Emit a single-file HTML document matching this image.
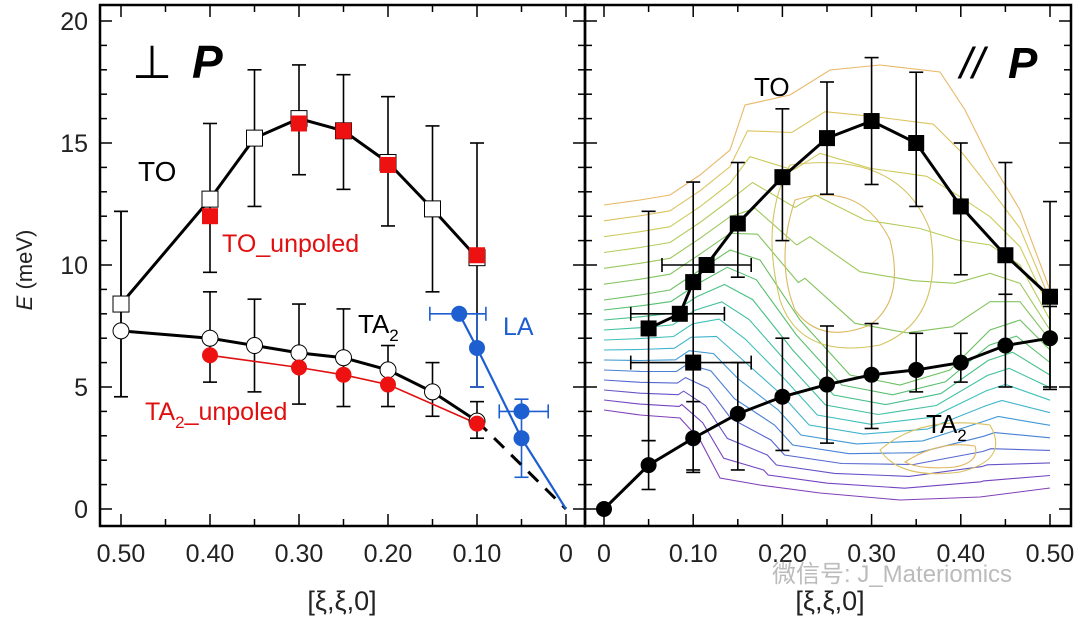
<!DOCTYPE html>
<html><head><meta charset="utf-8"><style>
body{margin:0;background:#fff}
svg{display:block}
text{font-family:"Liberation Sans",sans-serif}
</style></head><body>
<svg id="chart" width="1080" height="620" viewBox="0 0 1080 620"></svg>
<script>
// ---- data ----
const toXi=[0.5,0.4,0.35,0.3,0.25,0.2,0.15,0.1];
const toE=[8.4,12.7,15.2,16.0,15.5,14.2,12.3,10.3];
const toLo=[4.6,9.7,12.4,13.7,13.1,11.6,8.9,5.0];
const toHi=[12.2,15.8,18.0,18.2,17.8,16.9,15.7,15.0];
const touXi=[0.4,0.3,0.25,0.2,0.1];
const touE=[12.0,15.8,15.5,14.1,10.4];
const taXi=[0.5,0.4,0.35,0.3,0.25,0.2,0.15,0.1];
const taE=[7.3,7.0,6.7,6.4,6.2,5.7,4.8,3.6];
const taLo=[4.6,5.2,4.8,4.3,4.2,4.2,3.8,2.9];
const taHi=[12.2,8.9,8.6,8.4,8.2,6.7,6.0,4.4];
const tauXi=[0.4,0.3,0.25,0.2,0.1];
const tauE=[6.3,5.8,5.5,5.1,3.5];
const laXi=[0.12,0.1,0.05,0.05,0];
const laE=[8.0,6.6,4.0,2.9,0];
const laXlo=[0.153,null,0.075,null,null];
const laXhi=[0.09,null,0.02,null,null];
const laLo=[null,5.0,null,1.3,null];
const laHi=[null,8.0,null,4.5,null];
const rtoXi=[0.05,0.085,0.1,0.115,0.15,0.2,0.25,0.3,0.35,0.4,0.45,0.5];
const rtoE=[7.4,8.0,9.3,10.0,11.7,13.6,15.2,15.9,15.0,12.4,10.4,8.7];
const rtoLo=[2.8,null,1.5,null,9.5,11.0,12.9,13.3,12.4,9.6,6.7,4.9];
const rtoHi=[12.2,null,13.4,null,14.2,16.4,17.5,18.5,17.9,15.0,14.2,12.6];
const rtoXlo=[null,0.03,null,0.065,null,null,null,null,null,null,null,null];
const rtoXhi=[null,0.135,null,0.165,null,null,null,null,null,null,null,null];
const rtaXi=[0,0.05,0.1,0.15,0.2,0.25,0.3,0.35,0.4,0.45,0.5];
const rtaE=[0,1.8,2.9,3.9,4.6,5.1,5.5,5.7,6.0,6.7,7.0];
const rtaLo=[null,0.8,1.6,1.6,2.4,2.7,3.3,4.8,5.2,5.0,5.0];
const rtaHi=[null,2.8,4.4,6.0,7.0,7.5,7.6,7.2,7.2,8.8,8.3];
const yTicks=[0,5,10,15,20];
const xTicks=[0.5,0.4,0.3,0.2,0.1,0];
const xTickLabels=["0.50","0.40","0.30","0.20","0.10","0"];
const rxTicks=[0,0.1,0.2,0.3,0.4,0.5];
const rxTickLabels=["0","0.10","0.20","0.30","0.40","0.50"];

// ---- scales ----
const Y=e=>509-e*24.4;
const XL=x=>566-x*890;
const XR=x=>604+x*892;
const NS="http://www.w3.org/2000/svg";
const svg=document.getElementById('chart');
function el(t,a,p){const e=document.createElementNS(NS,t);for(const k in a)e.setAttribute(k,a[k]);(p||svg).appendChild(e);return e;}
function line(x1,y1,x2,y2,c,w,extra){return el('line',Object.assign({x1,y1,x2,y2,stroke:c,'stroke-width':w},extra||{}));}
function txt(x,y,s,size,fill,anchor,extra){const t=el('text',Object.assign({x,y,'font-size':size,fill,'text-anchor':anchor||'start'},extra||{}));t.textContent=s;return t;}

// ---- contours (decorative background of right panel) ----
const cg=el('g',{});


const outerC=[[604,205],[640,200],[670,195],[700,175],[730,150],[745,105],[790,95],[830,70],[880,65],[940,72],[965,110],[990,160],[1020,210],[1050,290]];
const midC=[[604,300],[640,295],[670,290],[700,270],[730,250],[760,260],[800,320],[850,375],[900,385],[950,370],[990,330],[1020,320],[1050,350]];
const innerC=[[604,410],[640,415],[680,418],[700,440],[720,478],[760,485],[820,493],[900,500],[980,497],[1050,488]];
const colsA=['#e8b868','#dcc460','#cccc5c','#b4cc5c','#9cc85c','#84c460'];
const colsB=['#6cc060','#58c070','#48c088','#40c0a0','#40c0bc','#40b4cc','#4098d4','#4880d4','#5468d0','#6454c8','#7444c0','#8040b8'];
function lerpPath(a,b,t){const n=Math.max(a.length,b.length);const pts=[];for(let i=0;i<n;i++){const pa=a[Math.round(i*(a.length-1)/(n-1))],pb=b[Math.round(i*(b.length-1)/(n-1))];pts.push([(pa[0]*(1-t)+pb[0]*t).toFixed(1),(pa[1]*(1-t)+pb[1]*t).toFixed(1)]);}return 'M'+pts.map(p=>p.join(' ')).join(' L');}
colsA.forEach((c,i)=>el('path',{d:lerpPath(outerC,midC,i/colsA.length),fill:'none',stroke:c,'stroke-width':1.1},cg));
colsB.forEach((c,i)=>el('path',{d:lerpPath(midC,innerC,i/(colsB.length-1)),fill:'none',stroke:c,'stroke-width':1.1},cg));
el('path',{d:'M795 200 Q860 180 890 240 Q905 300 870 325 Q820 345 795 310 Q775 260 795 200Z',fill:'none',stroke:'#dcb860','stroke-width':1.1},cg);
el('path',{d:'M790 165 Q900 150 930 230 Q945 320 880 345 Q800 360 780 300 Q760 220 790 165Z',fill:'none',stroke:'#d4c460','stroke-width':1.1},cg);
el('path',{d:'M880 450 Q920 415 990 425 Q1010 460 960 472 Q900 480 880 450Z',fill:'none',stroke:'#d8c060','stroke-width':1.1},cg);
el('path',{d:'M905 462 Q940 440 975 446 Q980 462 955 467 Q920 470 905 462Z',fill:'none',stroke:'#e0b860','stroke-width':1.1},cg);

// ---- frames ----
el('rect',{x:100,y:5,width:485,height:521,fill:'none',stroke:'#000','stroke-width':2.5});
el('rect',{x:585,y:5,width:486,height:521,fill:'none',stroke:'#000','stroke-width':2.5});

for(let e=0;e<=20;e++){const y=Y(e);const L=(e%5===0)?12:7;
  line(100,y,100+L,y,'#000',1.5);line(585-L,y,585,y,'#000',1.5);line(585,y,585+L,y,'#000',1.5);line(1071-L,y,1071,y,'#000',1.5);}
for(let i=0;i<=10;i++){const x=i*0.05;const L=(i%2===0)?12:7;
  line(XL(x),526,XL(x),526-L,'#000',1.5);line(XL(x),5,XL(x),5+L,'#000',1.5);
  line(XR(x),526,XR(x),526-L,'#000',1.5);line(XR(x),5,XR(x),5+L,'#000',1.5);}
yTicks.forEach(v=>{const t=txt(88,Y(v)+9,String(v),25,'#222','end');});
xTicks.forEach((v,i)=>{const t=txt(XL(v),562,xTickLabels[i],25,'#222','middle');});
rxTicks.forEach((v,i)=>{const t=txt(XR(v),562,rxTickLabels[i],25,'#222','middle');});

let t=txt(0,0,'',22,'#222','middle',{transform:'translate(32,270) rotate(-90)'});
t.innerHTML='<tspan font-style="italic">E</tspan> (meV)';

t=txt(342,610,'[ξ,ξ,0]',27,'#222','middle',{'font-family':'Liberation Serif,serif'});

t=txt(830,610,'[ξ,ξ,0]',27,'#222','middle',{'font-family':'Liberation Serif,serif'});


function vbar(x,lo,hi,c){if(lo==null)return;line(x,Y(lo),x,Y(hi),c,1.6);line(x-7,Y(lo),x+7,Y(lo),c,1.6);line(x-7,Y(hi),x+7,Y(hi),c,1.6);}
function hbar(x1,x2,y,c){line(x1,y,x2,y,c,1.6);line(x1,y-7,x1,y+7,c,1.6);line(x2,y-7,x2,y+7,c,1.6);}
function poly(xs,es,X,c,w,dash){return el('polyline',{points:xs.map((x,i)=>X(x)+','+Y(es[i])).join(' '),fill:'none',stroke:c,'stroke-width':w,'stroke-dasharray':dash||'none'});}

toXi.forEach((x,i)=>vbar(XL(x),toLo[i],toHi[i],'#000'));
taXi.forEach((x,i)=>vbar(XL(x),taLo[i],taHi[i],'#000'));
laXi.forEach((x,i)=>{vbar(XL(x),laLo[i],laHi[i],'#1d5fd0');if(laXlo[i]!=null)hbar(XL(laXlo[i]),XL(laXhi[i]),Y(laE[i]),'#1d5fd0');});
poly(toXi,toE,XL,'#000',3);
poly(taXi,taE,XL,'#000',3);
poly([0.1,0],[taE[taE.length-1],0],XL,'#000',3,'14,10');
poly(tauXi,tauE,XL,'#e01010',1.6);
poly([0.12,0.1,0.05,0],[8.0,6.6,2.9,0],XL,'#1d5fd0',2.2);
toXi.forEach((x,i)=>{const m=el('rect',{x:XL(x)-8,y:Y(toE[i])-8,width:16,height:16,fill:'#fff',stroke:'#000','stroke-width':1});});
taXi.forEach((x,i)=>{const m=el('circle',{cx:XL(x),cy:Y(taE[i]),r:8,fill:'#fff',stroke:'#000','stroke-width':1});});
touXi.forEach((x,i)=>{const m=el('rect',{x:XL(x)-8,y:Y(touE[i])-8,width:16,height:16,fill:'#ee1111'});});
tauXi.forEach((x,i)=>{const m=el('circle',{cx:XL(x),cy:Y(tauE[i]),r:8,fill:'#ee1111'});});
laXi.forEach((x,i)=>{if(x===0)return;const m=el('circle',{cx:XL(x),cy:Y(laE[i]),r:8,fill:'#1d5fd0'});});

rtoXi.forEach((x,i)=>{vbar(XR(x),rtoLo[i],rtoHi[i],'#000');if(rtoXlo[i]!=null)hbar(XR(rtoXlo[i]),XR(rtoXhi[i]),Y(rtoE[i]),'#000');});
rtaXi.forEach((x,i)=>vbar(XR(x),rtaLo[i],rtaHi[i],'#000'));
hbar(XR(0.03),XR(0.165),Y(6.0),'#000');
poly(rtoXi,rtoE,XR,'#000',3);
poly(rtaXi,rtaE,XR,'#000',3);
rtoXi.forEach((x,i)=>{const m=el('rect',{x:XR(x)-8,y:Y(rtoE[i])-8,width:16,height:16,fill:'#000'});});
{const m=el('rect',{x:XR(0.1)-8,y:Y(6.0)-8,width:16,height:16,fill:'#000'});}
rtaXi.forEach((x,i)=>{const m=el('circle',{cx:XR(x),cy:Y(rtaE[i]),r:8,fill:'#000'});});

function lab(x,y,html,size,fill,name,extra){const t=txt(x,y,'',size,fill,'start',extra);t.innerHTML=html;}
lab(132,78,'⊥',46,'#000','perp-label');
lab(192,78,'P',46,'#000','perp-p-label',{'font-weight':'bold','font-style':'italic'});
lab(138,181,'TO',28,'#000','to-label');
lab(222,252,'TO_unpoled',25,'#e01010','to-unpoled-label');
lab(358,333,'TA<tspan font-size="17" dy="8">2</tspan>',26,'#000','ta2-label');
lab(145,420,'TA<tspan font-size="17" dy="8">2</tspan><tspan dy="-8">_unpoled</tspan>',25,'#e01010','ta2-unpoled-label');
lab(503,335,'LA',25,'#1d5fd0','la-label');
lab(960,78,'// ',44,'#000','parallel-label',{'font-style':'italic'});
lab(1008,78,'P',44,'#000','parallel-p-label',{'font-weight':'bold','font-style':'italic'});
lab(754,96,'TO',26,'#000','right-to-label');
lab(926,433,'TA<tspan font-size="17" dy="8">2</tspan>',26,'#000','right-ta2-label');
lab(772,582,'微信号: J_Materiomics',24,'#bbb','watermark',{'font-family':'Liberation Sans,Noto Sans CJK SC,sans-serif'});
</script>
</body></html>
